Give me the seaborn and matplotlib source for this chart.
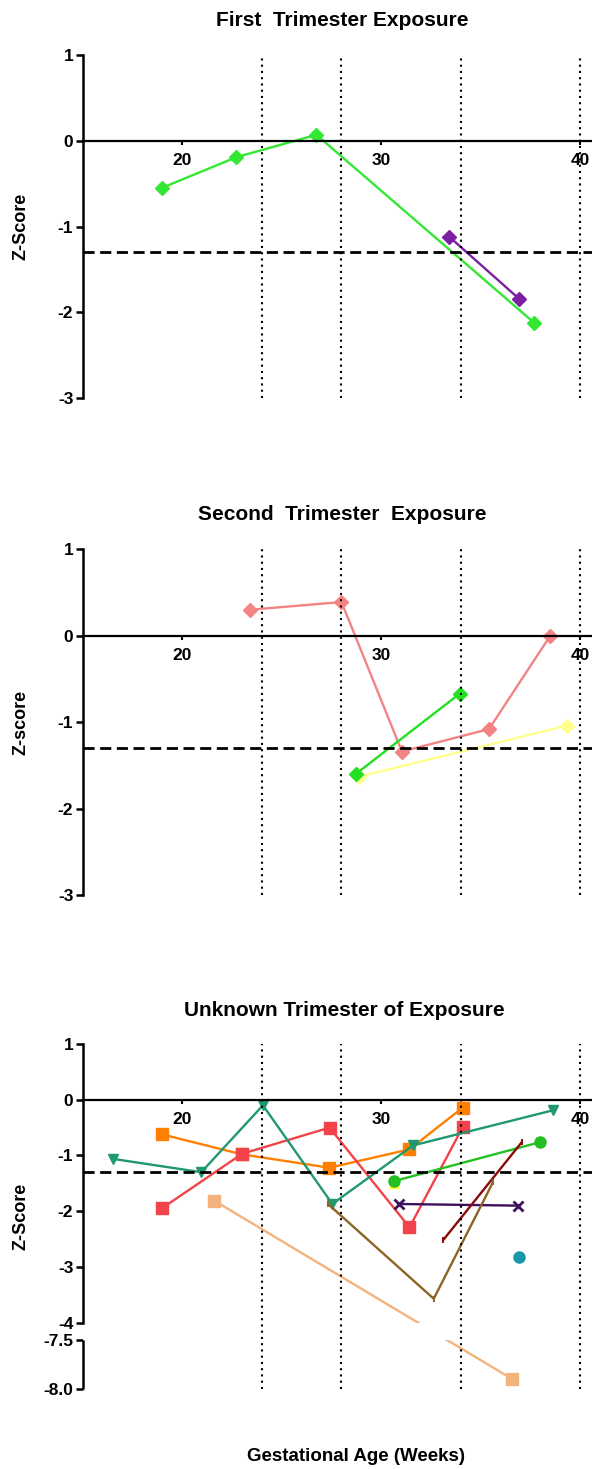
import numpy as np
import seaborn as sns
import matplotlib
matplotlib.use("Agg")
import matplotlib.pyplot as plt

# ---- data (gestational age in weeks, z-score) ----
p1_green_wk = [18.95, 22.72, 26.74, 37.69]
p1_green_z = [-0.55, -0.19, 0.07, -2.12]
p1_purple_wk = [33.43, 36.93]
p1_purple_z = [-1.12, -1.84]

p2_pink_wk = [23.38, 28.0, 31.04, 35.42, 38.5]
p2_pink_z = [0.30, 0.39, -1.34, -1.08, 0.0]
p2_green_wk = [28.72, 33.95]
p2_green_z = [-1.60, -0.67]
p2_yellow_wk = [28.89, 39.34]
p2_yellow_z = [-1.63, -1.04]

p3_orange_wk = [18.96, 23.0, 27.39, 31.42, 34.1]
p3_orange_z = [-0.62, -0.98, -1.22, -0.89, -0.14]
p3_red_wk = [18.96, 23.0, 27.4, 31.42, 34.1]
p3_red_z = [-1.95, -0.97, -0.50, -2.29, -0.49]
p3_teal_wk = [16.49, 20.95, 24.05, 27.54, 31.6, 38.63]
p3_teal_z = [-1.06, -1.30, -0.10, -1.87, -0.82, -0.19]
p3_green_wk = [30.64, 38.0]
p3_green_z = [-1.46, -0.76]
p3_yellow_wk = [30.64]
p3_yellow_z = [-1.52]
p3_purple_wk = [30.89, 36.9]
p3_purple_z = [-1.87, -1.90]
p3_darkred_wk = [33.11, 37.07]
p3_darkred_z = [-2.52, -0.76]
p3_brown_wk = [27.32, 32.64, 35.62]
p3_brown_z = [-1.87, -3.57, -1.48]
p3_tan_wk = [21.6, 36.6]
p3_tan_z = [-1.81, -7.9]
p3_cyan_wk = [36.92]
p3_cyan_z = [-2.82]

ref_weeks = [24, 28, 34, 40]
cutoff = -1.3
x_ticks = [20, 30, 40]

# ---- style ----
sns.set_style("white")
plt.rcParams['font.family'] = ['Liberation Sans', 'DejaVu Sans']
plt.rcParams['font.weight'] = 'bold'
plt.rcParams['axes.unicode_minus'] = False
plt.rcParams['text.color'] = 'black'
plt.rcParams['axes.labelcolor'] = 'black'
plt.rcParams['xtick.color'] = 'black'
plt.rcParams['ytick.color'] = 'black'
plt.rcParams['axes.edgecolor'] = 'black'

W, H = 592, 1469
fig = plt.figure(figsize=(W / 100, H / 100), dpi=100)

left = 83 / W
width = 1 - left


def make_axes(top_px, bottom_px):
    return fig.add_axes([left, 1 - bottom_px / H, width, (bottom_px - top_px) / H])


def series(ax, wk, z, color, marker, ms=7.5, mew=1.0, lw=1.7):
    sns.lineplot(x=wk, y=z, ax=ax, color=color, marker=marker, markersize=ms,
                 markeredgecolor=color, markeredgewidth=mew, linewidth=lw,
                 sort=False, estimator=None, zorder=2)


def decorate(ax, ylabel):
    ax.set_xlim(15, 40.6)
    for w in ref_weeks:
        ax.axvline(w, color='black', lw=1.5, ls=(0, (1, 2)), zorder=2.6)
    ax.axhline(cutoff, color='black', lw=2, ls=(0, (4, 2)), zorder=2.6)
    for s in ['top', 'right']:
        ax.spines[s].set_visible(False)
    ax.spines['bottom'].set_position(('data', 0))
    ax.spines['bottom'].set_linewidth(1.6)
    ax.spines['left'].set_linewidth(1.8)
    ax.set_xticks(x_ticks)
    ax.set_xticklabels([str(t) for t in x_ticks])
    ax.tick_params(axis='x', bottom=True, direction='out', length=3, width=1.5,
                   labelsize=12.5, pad=6)
    ax.tick_params(axis='y', left=True, direction='out', length=5, width=1.8,
                   labelsize=12.5, pad=2)
    ax.set_xlabel('')
    ax.set_ylabel(ylabel, fontsize=13, fontweight='bold')
    ax.yaxis.set_label_coords(-0.105, 0.5)
    ax.patch.set_alpha(0)


# ---- panel 1 ----
ax1 = make_axes(55, 398.3)
series(ax1, p1_green_wk, p1_green_z, '#33E833', 'D')
series(ax1, p1_purple_wk, p1_purple_z, '#7B1FA2', 'D')
ax1.set_ylim(-3, 1)
ax1.set_yticks([1, 0, -1, -2, -3])
decorate(ax1, 'Z-Score')

# ---- panel 2 ----
ax2 = make_axes(549.3, 895)
series(ax2, p2_yellow_wk, p2_yellow_z, '#FFFF8C', 'D')
series(ax2, p2_pink_wk, p2_pink_z, '#F28484', 'D')
series(ax2, p2_green_wk, p2_green_z, '#22E022', 'D')
ax2.set_ylim(-3, 1)
ax2.set_yticks([1, 0, -1, -2, -3])
decorate(ax2, 'Z-score')

# ---- panel 3 (broken y axis between -4 and -7.5) ----
K = 98 / 55.74
G = 17.3 / 55.74


def fwd(y):
    y = np.asarray(y, dtype=float)
    return np.where(y >= -4, y,
                    np.where(y <= -7.5, -4 - G + (y + 7.5) * K,
                             -4 + (y + 4) * G / 3.5))


def inv(z):
    z = np.asarray(z, dtype=float)
    return np.where(z >= -4, z,
                    np.where(z <= -4 - G, (z + 4 + G) / K - 7.5,
                             -4 + (z + 4) * 3.5 / G))


ax3 = make_axes(1044, 1389)
ax3.set_yscale('function', functions=(fwd, inv))
series(ax3, p3_tan_wk, p3_tan_z, '#F3B37D', 's', ms=8)
series(ax3, p3_orange_wk, p3_orange_z, '#FF8000', 's', ms=8)
series(ax3, p3_red_wk, p3_red_z, '#F2424A', 's', ms=8)
series(ax3, p3_teal_wk, p3_teal_z, '#1F9870', 'v', ms=6.5)
series(ax3, p3_yellow_wk, p3_yellow_z, '#FFFF33', 's', ms=6)
series(ax3, p3_green_wk, p3_green_z, '#22C022', 'o', ms=8)
series(ax3, p3_purple_wk, p3_purple_z, '#3D1060', 'x', ms=7, mew=2)
series(ax3, p3_darkred_wk, p3_darkred_z, '#8B0A0A', '|', ms=4, mew=1.4)
series(ax3, p3_brown_wk, p3_brown_z, '#8C6424', '|', ms=4, mew=1.4)
series(ax3, p3_cyan_wk, p3_cyan_z, '#1A96AA', 'o', ms=8)
ax3.set_ylim(-8, 1)
ax3.axhspan(-7.5, -4, color='white', zorder=2.5, lw=0)
y3_ticks = [1, 0, -1, -2, -3, -4, -7.5, -8]
ax3.set_yticks(y3_ticks)
ax3.set_yticklabels(['1', '0', '-1', '-2', '-3', '-4', '-7.5', '-8.0'])
ax3.minorticks_off()
decorate(ax3, 'Z-Score')
ax3.spines['left'].set_bounds(-4, 1)
ax3.plot([0, 0], [-8, -7.5], transform=ax3.get_yaxis_transform(),
         color='black', lw=1.8, clip_on=False, solid_capstyle='butt')

# ---- titles and shared x label ----
fig.text(342 / W, 1 - 20.7 / H, 'First  Trimester Exposure', ha='center', va='center',
         fontsize=15, fontweight='bold')
fig.text(342 / W, 1 - 515 / H, 'Second  Trimester  Exposure', ha='center', va='center',
         fontsize=15, fontweight='bold')
fig.text(344 / W, 1 - 1010 / H, 'Unknown Trimester of Exposure', ha='center', va='center',
         fontsize=15, fontweight='bold')
fig.text(356 / W, 1 - 1456.7 / H, 'Gestational Age (Weeks)', ha='center', va='center',
         fontsize=13.5, fontweight='bold')

fig.savefig('out.png', dpi=100, facecolor='white')
